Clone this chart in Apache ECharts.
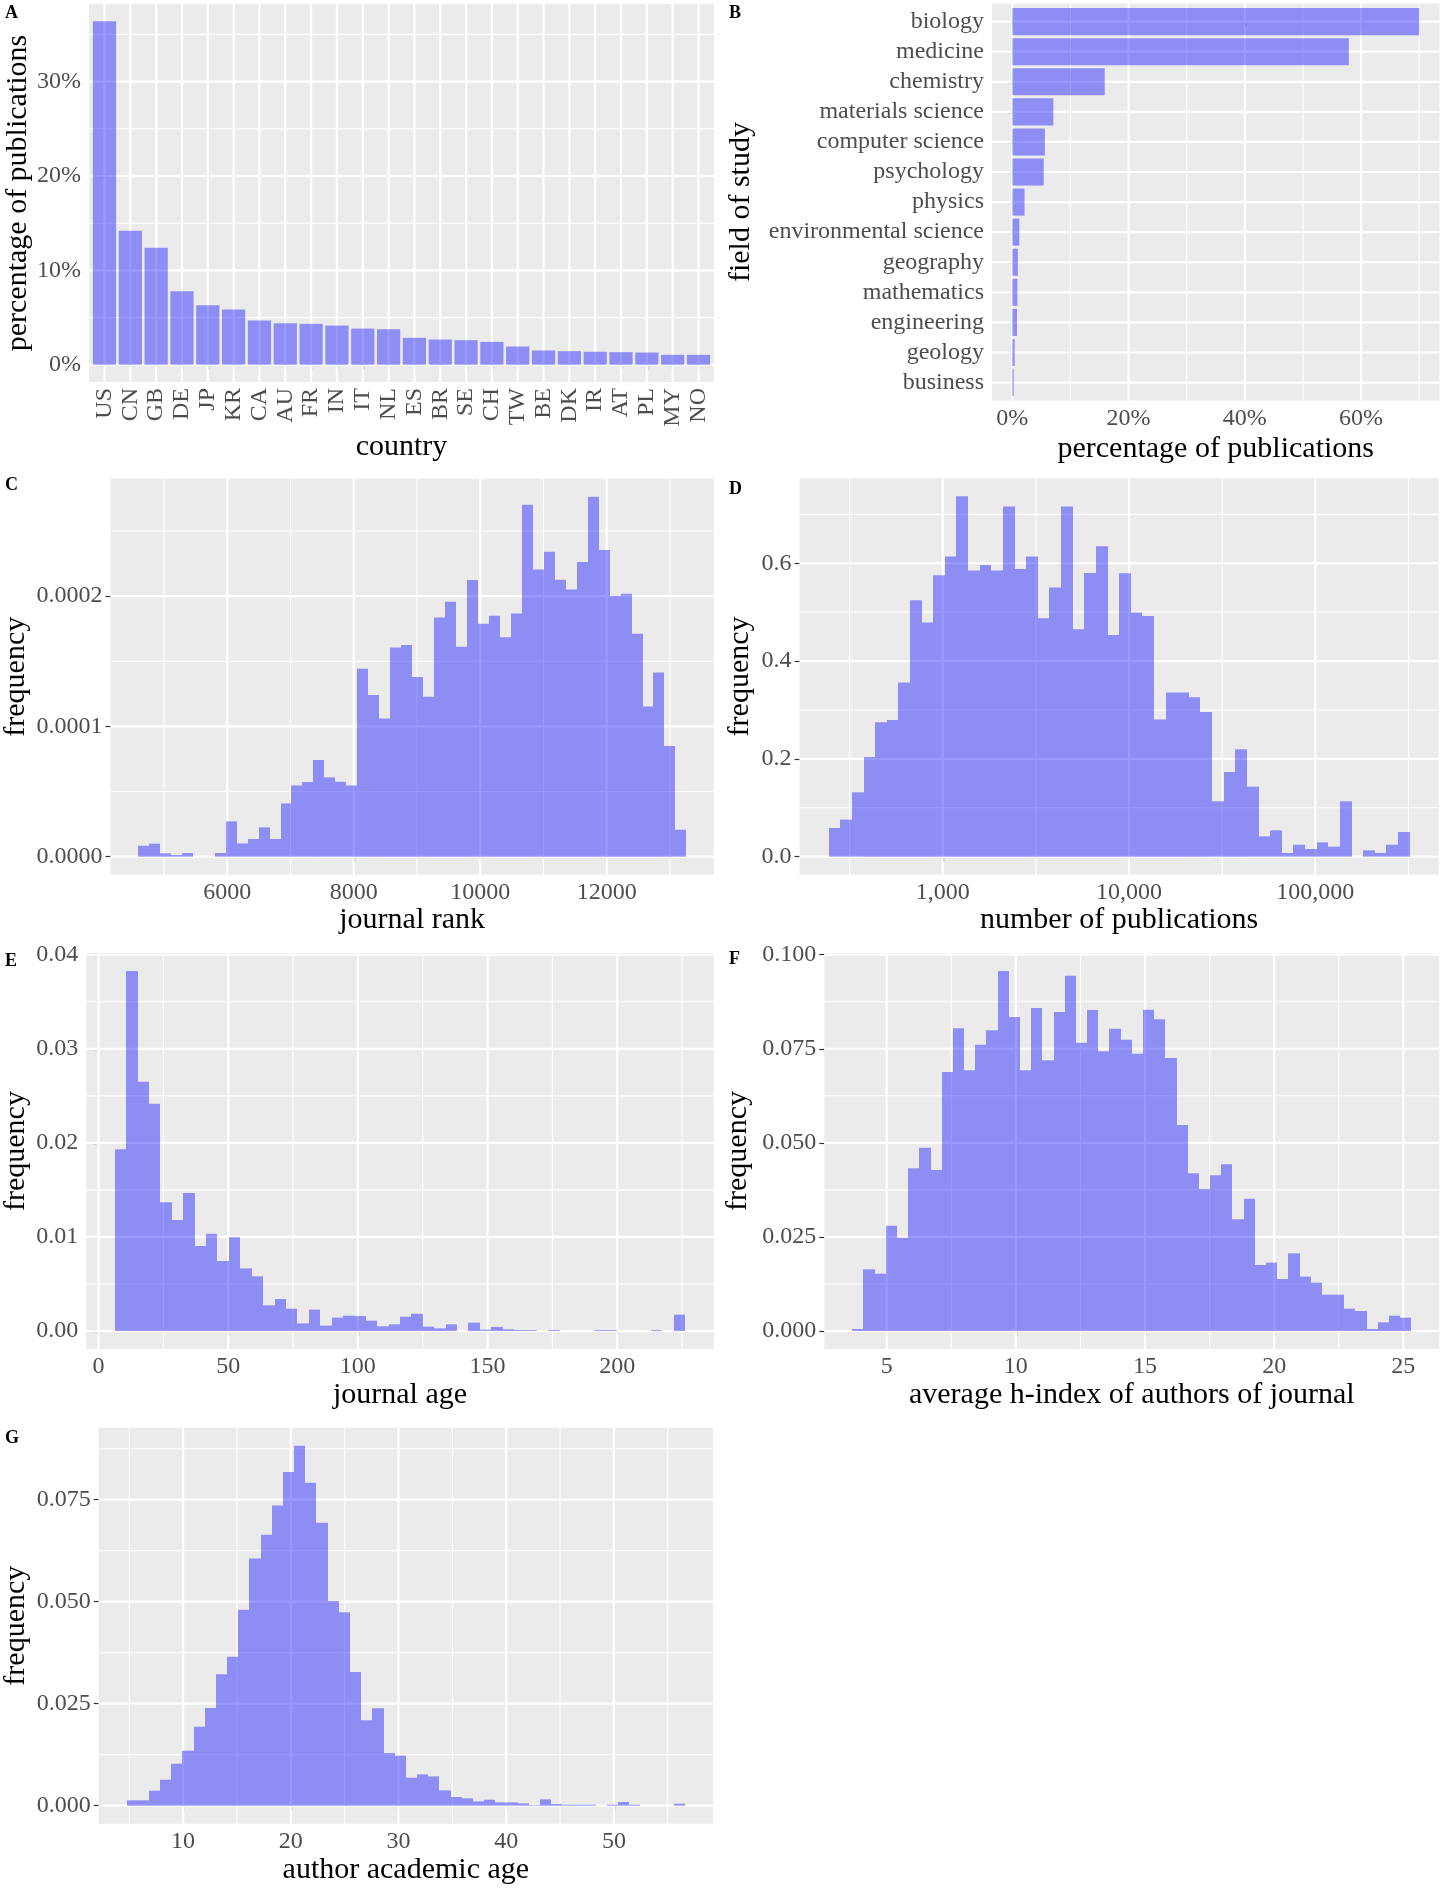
<!DOCTYPE html>
<html>
<head>
<meta charset="utf-8">
<script src="https://cdn.jsdelivr.net/npm/echarts@6/dist/echarts.min.js"></script>
<style>
html,body{margin:0;padding:0;background:#ffffff;}
#chart{width:1441px;height:1888px;}
</style>
</head>
<body>
<div id="chart"></div>
<script>
// ---------------- DATA ----------------
// A: country share
const countries = ['US','CN','GB','DE','JP','KR','CA','AU','FR','IN','IT','NL','ES','BR','SE','CH','TW','BE','DK','IR','AT','PL','MY','NO'];
const countryPct = [36.4,14.2,12.4,7.8,6.3,5.86,4.7,4.4,4.34,4.16,3.84,3.77,2.86,2.68,2.61,2.43,1.94,1.52,1.45,1.38,1.34,1.30,1.06,1.06];
const countryTicks = [0,10,20,30];

// B: field of study share
const fields = ['biology','medicine','chemistry','materials science','computer science','psychology','physics','environmental science','geography','mathematics','engineering','geology','business'];
const fieldPct = [70.0,57.9,15.9,7.06,5.6,5.4,2.1,1.2,0.95,0.87,0.8,0.4,0.24];
const fieldTicks = [0,20,40,60];

// C: journal rank histogram (50 bins)
const rankRange = [4587, 13260];
const rankFreq = [0.84e-5,1.0e-5,0.26e-5,0.13e-5,0.28e-5,0,0,0.28e-5,2.71e-5,1.02e-5,
  1.36e-5,2.25e-5,1.36e-5,4.09e-5,5.47e-5,5.73e-5,7.42e-5,6.09e-5,5.75e-5,5.47e-5,
  14.42e-5,12.40e-5,10.61e-5,16.06e-5,16.24e-5,13.79e-5,12.28e-5,18.36e-5,19.57e-5,16.11e-5,
  21.23e-5,17.88e-5,18.49e-5,16.85e-5,18.67e-5,27.01e-5,22.05e-5,23.40e-5,21.25e-5,20.51e-5,
  22.61e-5,27.62e-5,23.53e-5,20.03e-5,20.18e-5,17.11e-5,11.53e-5,14.14e-5,8.49e-5,2.07e-5];
const rankXTicks = [6000,8000,10000,12000];
const rankXMinor = [5000,7000,9000,11000,13000];
const rankYTicks = [0,0.0001,0.0002];
const rankYMinor = [0.00005,0.00015,0.00025];

// D: number of publications histogram (50 log bins)
const pubRange = [244, 321000];
const pubFreq = [0.0586,0.0757,0.1316,0.2039,0.2748,0.2796,0.3560,0.5244,0.4787,0.5755,
  0.6137,0.7371,0.5851,0.5967,0.5851,0.7160,0.5885,0.6137,0.4876,0.5503,
  0.7160,0.4651,0.5803,0.6348,0.4535,0.5796,0.4992,0.4923,0.2803,0.3355,
  0.3355,0.3260,0.2959,0.1132,0.1732,0.2196,0.1432,0.0416,0.0539,0.0075,
  0.0245,0.0157,0.0293,0.0205,0.1132,0,0.0130,0.0075,0.0245,0.0505];
const pubXTicks = [1000,10000,100000];
const pubXMinor = [316.23,3162.3,31623,316228];
const pubYTicks = [0,0.2,0.4,0.6];
const pubYMinor = [0.1,0.3,0.5,0.7];

// E: journal age histogram
const ageRange = [6.3, 226.2];
const ageFreq = [0.01931,0.03826,0.02650,0.02416,0.01368,0.01180,0.01467,0.00903,0.01035,0.00744,
  0.00996,0.00666,0.00581,0.00273,0.00340,0.00237,0.00081,0.00227,0.00057,0.00142,
  0.00163,0.00159,0.00110,0.00050,0.00071,0.00152,0.00184,0.00046,0.00028,0.00071,
  0,0.00089,0.00014,0.00043,0.00018,0.0001,0.0001,0,0.0001,0,
  0,0,0.0001,0.0001,0,0,0,0.0001,0,0.00174];
const ageXTicks = [0,50,100,150,200];
const ageXMinor = [25,75,125,175,225];
const ageYTicks = [0,0.01,0.02,0.03,0.04];
const ageYMinor = [0.005,0.015,0.025,0.035];

// F: average h-index histogram
const hRange = [3.666, 25.31];
const hFreq = [0.00053,0.01639,0.01523,0.02799,0.0248,0.04322,0.04871,0.04278,0.06882,0.08042,
  0.06926,0.07608,0.07989,0.09566,0.08343,0.06926,0.08582,0.07192,0.08476,0.09442,
  0.07661,0.08529,0.07431,0.08033,0.07741,0.07369,0.08538,0.08281,0.07254,0.05474,
  0.04189,0.03773,0.04136,0.04429,0.02967,0.03516,0.01754,0.01816,0.01382,0.02064,
  0.01444,0.01284,0.00965,0.00965,0.00593,0.00531,0.00053,0.0023,0.00407,0.00354];
const hXTicks = [5,10,15,20,25];
const hXMinor = [7.5,12.5,17.5,22.5];
const hYTicks = [0,0.025,0.05,0.075,0.1];
const hYMinor = [0.0125,0.0375,0.0625,0.0875];

// G: author academic age histogram
const acRange = [4.755, 56.61];
const acFreq = [0.00131,0.00131,0.00368,0.00637,0.01029,0.01348,0.01936,0.02394,0.03219,0.03652,
  0.04804,0.06062,0.06642,0.07361,0.08178,0.08824,0.07917,0.06936,0.05016,0.04739,
  0.03276,0.02092,0.02386,0.01291,0.01226,0.00686,0.00768,0.00719,0.00376,0.00212,
  0.0018,0.00106,0.00147,0.00082,0.00082,0.00057,0.00016,0.00155,0.00041,0.00025,
  0.00025,0.00025,0,0.00025,0.0009,0.00025,0,0,0,0.00049];
const acXTicks = [10,20,30,40,50];
const acXMinor = [5,15,25,35,45,55];
const acYTicks = [0,0.025,0.05,0.075];
const acYMinor = [0.0125,0.0375,0.0625,0.0875];

// ---------------- HELPERS ----------------
const SERIF = '"Liberation Serif","Times New Roman",serif';
const BAR = 'rgba(0,0,255,0.4)';
const PANEL_BG = '#EBEBEB';

function expand(lo, hi) { const d = (hi - lo) * 0.05; return [lo - d, hi + d]; }
function yExpand(arr) { const m = Math.max.apply(null, arr); return [-0.05 * m, 1.05 * m]; }
function linEdges(r, n) { const e = []; for (let i = 0; i <= n; i++) e.push(r[0] + (r[1] - r[0]) * i / n); return e; }
function logEdges(r, n) { const a = Math.log10(r[0]), b = Math.log10(r[1]); const e = []; for (let i = 0; i <= n; i++) e.push(Math.pow(10, a + (b - a) * i / n)); return e; }

const grids = [], xAxes = [], yAxes = [], series = [];

function axis(o) {
  const a = {
    type: o.type || 'value', gridIndex: o.g, min: o.min, max: o.max, inverse: !!o.inverse,
    axisLine: { show: false },
    splitLine: { show: false }, minorSplitLine: { show: false }, minorTick: { show: false },
    axisTick: { show: true, length: 5, lineStyle: { color: '#333333', width: 1.2 }, customValues: o.ticks },
    axisLabel: { show: true, customValues: o.ticks, formatter: o.fmt, fontFamily: SERIF, fontSize: 24,
                 color: '#4D4D4D', margin: o.margin, rotate: o.rotate || 0, hideOverlap: false },
    name: o.name, nameLocation: 'middle', nameGap: o.gap,
    nameTextStyle: { fontFamily: SERIF, fontSize: 30, color: '#000000' },
    silent: true
  };
  if (o.type === 'log') a.logBase = 10;
  if (o.nameRotate !== undefined) a.nameRotate = o.nameRotate;
  return a;
}

function gridLines(g, xr, yr, xMaj, xMin, yMaj, yMin) {
  const items = [];
  xMin.forEach(v => items.push({ o: 'x', v: v, w: 1.1 }));
  yMin.forEach(v => items.push({ o: 'y', v: v, w: 1.1 }));
  xMaj.forEach(v => items.push({ o: 'x', v: v, w: 2.2 }));
  yMaj.forEach(v => items.push({ o: 'y', v: v, w: 2.2 }));
  series.push({
    type: 'custom', xAxisIndex: g, yAxisIndex: g, z: 1, silent: true, animation: false,
    data: items.map(() => [xr[0], yr[0]]),
    renderItem: function (params, api) {
      const it = items[params.dataIndex];
      let a, b;
      if (it.o === 'x') { a = api.coord([it.v, yr[0]]); b = api.coord([it.v, yr[1]]); }
      else { a = api.coord([xr[0], it.v]); b = api.coord([xr[1], it.v]); }
      return { type: 'line', shape: { x1: a[0], y1: a[1], x2: b[0], y2: b[1] },
               style: { stroke: '#FFFFFF', lineWidth: it.w } };
    }
  });
}

function histogram(g, edges, freq) {
  series.push({
    type: 'custom', xAxisIndex: g, yAxisIndex: g, z: 3, silent: true, animation: false,
    data: freq.map((h, i) => [edges[i], edges[i + 1], h]),
    encode: { x: [0, 1], y: 2 },
    renderItem: function (params, api) {
      const h = api.value(2);
      if (!h) return null;
      const p0 = api.coord([api.value(0), h]);
      const p1 = api.coord([api.value(1), 0]);
      const x0 = Math.round(p0[0]), x1 = Math.round(p1[0]);
      return { type: 'rect', shape: { x: x0, y: p0[1], width: x1 - x0, height: p1[1] - p0[1] },
               style: { fill: BAR } };
    }
  });
}

// ---------- Panel A ----------
(function () {
  const g = grids.length;
  grids.push({ left: 89, top: 4, width: 625, height: 378 });
  const xr = [-0.6, countries.length - 1 + 0.6];
  const yr = yExpand(countryPct);
  const idx = countries.map((c, i) => i);
  xAxes.push(axis({ g, min: xr[0], max: xr[1], ticks: idx, fmt: v => countries[Math.round(v)], margin: 6, rotate: 90,
                    name: 'country', gap: 50 }));
  yAxes.push(axis({ g, min: yr[0], max: yr[1], ticks: countryTicks, fmt: v => v + '%', margin: 8,
                    name: 'percentage of publications', gap: 53, nameRotate: 90 }));
  gridLines(g, xr, yr, idx, [], countryTicks, [5, 15, 25, 35]);
  series.push({
    type: 'custom', xAxisIndex: g, yAxisIndex: g, z: 3, silent: true, animation: false,
    data: countryPct.map((p, i) => [i, p]),
    renderItem: function (params, api) {
      const i = api.value(0), p = api.value(1);
      const a = api.coord([i - 0.45, p]), b = api.coord([i + 0.45, 0]);
      return { type: 'rect', shape: { x: a[0], y: a[1], width: b[0] - a[0], height: b[1] - a[1] }, style: { fill: BAR } };
    }
  });
})();

// ---------- Panel B ----------
(function () {
  const g = grids.length;
  grids.push({ left: 992, top: 3.6, width: 447.5, height: 397 });
  const xr = expand(0, Math.max.apply(null, fieldPct));
  const yr = [-0.6, fields.length - 1 + 0.6];
  const idx = fields.map((f, i) => i);
  xAxes.push(axis({ g, min: xr[0], max: xr[1], ticks: fieldTicks, fmt: v => v + '%', margin: 6,
                    name: 'percentage of publications', gap: 34 }));
  yAxes.push(axis({ g, min: yr[0], max: yr[1], inverse: true, ticks: idx, fmt: v => fields[Math.round(v)], margin: 8,
                    name: 'field of study', gap: 236, nameRotate: 90 }));
  gridLines(g, xr, yr, fieldTicks, [10, 30, 50, 70], idx, []);
  series.push({
    type: 'custom', xAxisIndex: g, yAxisIndex: g, z: 3, silent: true, animation: false,
    data: fieldPct.map((p, i) => [p, i]),
    encode: { x: 0, y: 1 },
    renderItem: function (params, api) {
      const p = api.value(0), i = api.value(1);
      const a = api.coord([0, i - 0.45]), b = api.coord([p, i + 0.45]);
      const y0 = Math.min(a[1], b[1]), y1 = Math.max(a[1], b[1]);
      return { type: 'rect', shape: { x: a[0], y: y0, width: b[0] - a[0], height: y1 - y0 }, style: { fill: BAR } };
    }
  });
})();

// ---------- Histogram panels ----------
function histPanel(rect, range, freq, log, xTicks, xMinor, yTicks, yMinor, xFmt, yFmt, xName, xGap, yGap) {
  const g = grids.length;
  grids.push(rect);
  let xr;
  if (log) {
    const lr = expand(Math.log10(range[0]), Math.log10(range[1]));
    xr = [Math.pow(10, lr[0]), Math.pow(10, lr[1])];
  } else xr = expand(range[0], range[1]);
  const yr = yExpand(freq);
  xAxes.push(axis({ g, type: log ? 'log' : 'value', min: xr[0], max: xr[1], ticks: xTicks, fmt: xFmt, margin: 6,
                    name: xName, gap: xGap }));
  yAxes.push(axis({ g, min: yr[0], max: yr[1], ticks: yTicks, fmt: yFmt, margin: 8,
                    name: 'frequency', gap: yGap, nameRotate: 90 }));
  gridLines(g, xr, yr, xTicks, xMinor, yTicks, yMinor);
  const edges = log ? logEdges(range, freq.length) : linEdges(range, freq.length);
  histogram(g, edges, freq);
}

const plain = v => String(v);
histPanel({ left: 110.5, top: 478.8, width: 603.3, height: 395.9 }, rankRange, rankFreq, false,
  rankXTicks, rankXMinor, rankYTicks, rankYMinor, plain, v => v.toFixed(4), 'journal rank', 28, 79.5);
histPanel({ left: 799.6, top: 478.2, width: 639.1, height: 396.5 }, pubRange, pubFreq, true,
  pubXTicks, pubXMinor, pubYTicks, pubYMinor, v => Math.round(v).toLocaleString('en-US'), v => v.toFixed(1), 'number of publications', 30, 44);
histPanel({ left: 86.3, top: 953.1, width: 627.4, height: 395.9 }, ageRange, ageFreq, false,
  ageXTicks, ageXMinor, ageYTicks, ageYMinor, plain, v => v.toFixed(2), 'journal age', 29, 55);
histPanel({ left: 824.3, top: 953, width: 615, height: 396 }, hRange, hFreq, false,
  hXTicks, hXMinor, hYTicks, hYMinor, plain, v => v.toFixed(3), 'average h-index of authors of journal', 29, 71);
histPanel({ left: 98.7, top: 1427.7, width: 614.3, height: 396 }, acRange, acFreq, false,
  acXTicks, acXMinor, acYTicks, acYMinor, plain, v => v.toFixed(3), 'author academic age', 31, 68);

grids.forEach(gr => { gr.show = true; gr.backgroundColor = PANEL_BG; gr.borderWidth = 0; gr.containLabel = false; gr.outerBoundsMode = 'none'; });

const letters = [['A', 5, 4], ['B', 729, 4], ['C', 5, 476], ['D', 729, 480], ['E', 5, 952], ['F', 729, 950], ['G', 5, 1429]];
const graphic = letters.map(l => ({
  type: 'text', left: l[1], top: l[2], silent: true,
  style: { text: l[0], fontFamily: SERIF, fontWeight: 'bold', fontSize: 18, fill: '#000000' }
}));

const chart = echarts.init(document.getElementById('chart'), null, { renderer: 'canvas' });
chart.setOption({
  animation: false,
  backgroundColor: '#FFFFFF',
  grid: grids,
  xAxis: xAxes,
  yAxis: yAxes,
  series: series,
  graphic: graphic
});
</script>
</body>
</html>
